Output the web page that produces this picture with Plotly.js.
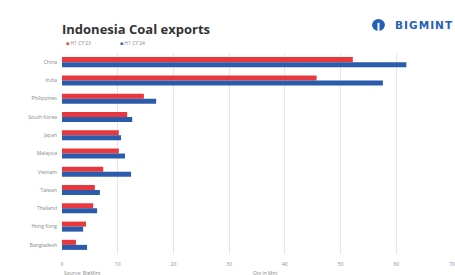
<!DOCTYPE html>
<html><head><meta charset="utf-8">
<script src="https://cdn.plot.ly/plotly-3.0.1.min.js"></script>
<style>html,body{margin:0;padding:0;background:#fff}#c{width:455px;height:275px}</style>
</head><body><div id="c"></div>
<script>
var countries = ["China","India","Philippines","South Korea","Japan","Malaysia","Vietnam","Taiwan","Thailand","Hong Kong","Bangladesh"];
var h1cy23 = [52.2,45.7,14.7,11.7,10.2,10.2,7.4,5.9,5.6,4.3,2.5];
var h1cy24 = [61.8,57.6,16.9,12.6,10.6,11.3,12.4,6.8,6.3,3.8,4.5];
var xTicks = [0,10,20,30,40,50,60,70];
var seriesNames = ["H1 CY'23","H1 CY'24"];
var red = "#e8383d", blue = "#2b5cab";

var traces = [
 {type:"bar", orientation:"h", name:seriesNames[0], y:countries, x:h1cy23, marker:{color:red}},
 {type:"bar", orientation:"h", name:seriesNames[1], y:countries, x:h1cy24, marker:{color:blue}}
];
var layout = {
 width:455, height:275,
 margin:{l:62, r:3, t:53, b:21},
 paper_bgcolor:"#fff", plot_bgcolor:"#fff",
 showlegend:false,
 barmode:"group", bargap:0.45, bargroupgap:0,
 font:{family:"Open Sans, Arial, sans-serif", color:"#777"},
 xaxis:{range:[0,70], tickvals:xTicks, showgrid:true, gridcolor:"#e6e6e6", gridwidth:1, zeroline:false,
        showline:false, tickfont:{size:5, color:"#888"}, ticks:"outside", ticklen:5, tickcolor:"rgba(0,0,0,0)"},
 yaxis:{autorange:"reversed", tickfont:{size:5, color:"#888"}, showline:false, ticks:"outside", ticklen:3, tickcolor:"rgba(0,0,0,0)", showgrid:false},
 annotations:[
  {xref:"paper", yref:"paper", x:-0.005, y:1.119, xanchor:"left", yanchor:"middle", text:"<b>Indonesia Coal exports</b>",
   showarrow:false, font:{size:13, color:"#333", family:"Open Sans, Arial, sans-serif"}},
  {xref:"paper", yref:"paper", x:0.005, y:1.05, xanchor:"left", yanchor:"middle", text:"<span style='color:"+red+"'>■</span> "+seriesNames[0],
   showarrow:false, font:{size:5, color:"#888"}},
  {xref:"paper", yref:"paper", x:0.143, y:1.05, xanchor:"left", yanchor:"middle", text:"<span style='color:"+blue+"'>■</span> "+seriesNames[1],
   showarrow:false, font:{size:5, color:"#888"}},
  {xref:"paper", yref:"paper", x:0.0, y:-0.095, xanchor:"left", yanchor:"middle", text:"Source: BigMint",
   showarrow:false, font:{size:5, color:"#888"}},
  {xref:"paper", yref:"paper", x:0.485, y:-0.095, xanchor:"left", yanchor:"middle", text:"Qty in Mnt",
   showarrow:false, font:{size:5, color:"#888"}},
  {xref:"paper", yref:"paper", x:1.007, y:1.14, xanchor:"right", yanchor:"middle", text:"<b>B\u200AI\u200AG\u200AM\u200AI\u200AN\u200AT</b>",
   showarrow:false, font:{size:10.5, color:"#2460b8", family:"DejaVu Sans, Arial, sans-serif"}}
 ],
 shapes:[
  {type:"circle", xref:"paper", yref:"paper", x0:0.795, x1:0.828, y0:1.109, y1:1.169, fillcolor:"#2460b8", line:{width:0}},
  {type:"rect", xref:"paper", yref:"paper", x0:0.809, x1:0.814, y0:1.095, y1:1.15, fillcolor:"#fff", line:{width:0}}
 ]
};
Plotly.newPlot("c", traces, layout, {displayModeBar:false, staticPlot:true});
</script></body></html>
